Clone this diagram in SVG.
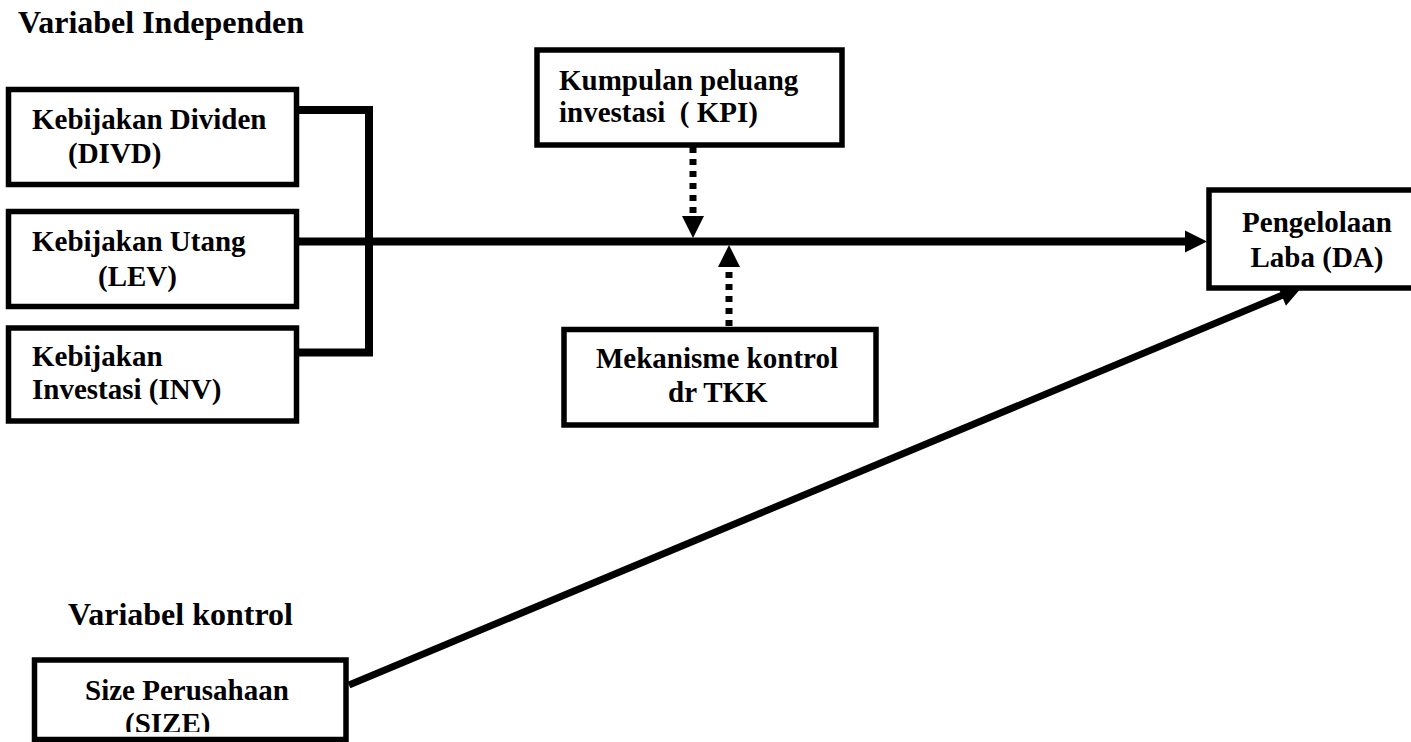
<svg xmlns="http://www.w3.org/2000/svg" width="1411" height="742" viewBox="0 0 1411 742">
  <style>
    .box { fill: #ffffff; stroke: #000000; stroke-width: 5.5; }
    .lbl { font-family: "Liberation Serif", "Times New Roman", serif; font-weight: bold; font-size: 29px; fill: #000000; }
    .head { font-family: "Liberation Serif", "Times New Roman", serif; font-weight: bold; font-size: 32px; fill: #000000; }
    .wire { fill: none; stroke: #000000; stroke-width: 8; }
    .dash { fill: none; stroke: #000000; stroke-width: 7; stroke-dasharray: 6 6; }
    .head-fill { fill: #000000; }
  </style>
  <defs>
    <clipPath id="sizeClip">
      <rect x="0" y="600" width="400" height="132"/>
    </clipPath>
  </defs>
  <rect width="1411" height="742" fill="#ffffff"/>

  <!-- section headings -->
  <text class="head" x="18" y="33">Variabel Independen</text>
  <text class="head" x="68" y="625">Variabel kontrol</text>

  <!-- connectors -->
  <g id="connectors">
    <!-- bracket joining the three independent variables -->
    <polyline class="wire" points="299,110 369,110 369,352.5 299,352.5"/>
    <!-- main path to the dependent variable -->
    <line class="wire" x1="299" y1="241.5" x2="1188" y2="241.5"/>
    <polygon class="head-fill" points="1185,230.5 1207,241.5 1185,252.5"/>
    <!-- moderating effect from KPI -->
    <line class="dash" x1="693" y1="147" x2="693" y2="218"/>
    <polygon class="head-fill" points="682,216 704,216 693,238"/>
    <!-- moderating effect from control mechanism -->
    <line class="dash" x1="729" y1="326" x2="729" y2="265"/>
    <polygon class="head-fill" points="718,267 740,267 729,245"/>
    <!-- control variable path -->
    <line x1="349" y1="685" x2="1284" y2="294.5" stroke="#000000" stroke-width="7"/>
    <polygon class="head-fill" points="1302,287 1277.5,285.3 1285.9,305.7"/>
  </g>

  <g id="node-divd">
    <rect class="box" x="8.5" y="89.5" width="288" height="95"/>
    <text class="lbl" x="32" y="129">Kebijakan Dividen</text>
    <text class="lbl" x="68" y="163">(DIVD)</text>
  </g>

  <g id="node-lev">
    <rect class="box" x="8.5" y="211.5" width="288" height="95"/>
    <text class="lbl" x="32" y="251">Kebijakan Utang</text>
    <text class="lbl" x="98" y="286">(LEV)</text>
  </g>

  <g id="node-inv">
    <rect class="box" x="8.5" y="328" width="288" height="93"/>
    <text class="lbl" x="32" y="366">Kebijakan</text>
    <text class="lbl" x="32" y="399">Investasi (INV)</text>
  </g>

  <g id="node-kpi">
    <rect class="box" x="537" y="50" width="305" height="95"/>
    <text class="lbl" x="559" y="90">Kumpulan peluang</text>
    <text class="lbl" x="559" y="122" xml:space="preserve">investasi  ( KPI)</text>
  </g>

  <g id="node-tkk">
    <rect class="box" x="564" y="329.5" width="312" height="95.5"/>
    <text class="lbl" x="596" y="368">Mekanisme kontrol</text>
    <text class="lbl" x="668" y="402">dr TKK</text>
  </g>

  <g id="node-da">
    <rect class="box" x="1209" y="190" width="210" height="98"/>
    <text class="lbl" x="1317" y="232" text-anchor="middle">Pengelolaan</text>
    <text class="lbl" x="1317" y="267" text-anchor="middle">Laba (DA)</text>
  </g>

  <g id="node-size">
    <rect class="box" x="34.5" y="660" width="311.5" height="79.5"/>
    <text class="lbl" x="85" y="700">Size Perusahaan</text>
    <text class="lbl" x="125" y="733" clip-path="url(#sizeClip)">(SIZE)</text>
  </g>
</svg>
